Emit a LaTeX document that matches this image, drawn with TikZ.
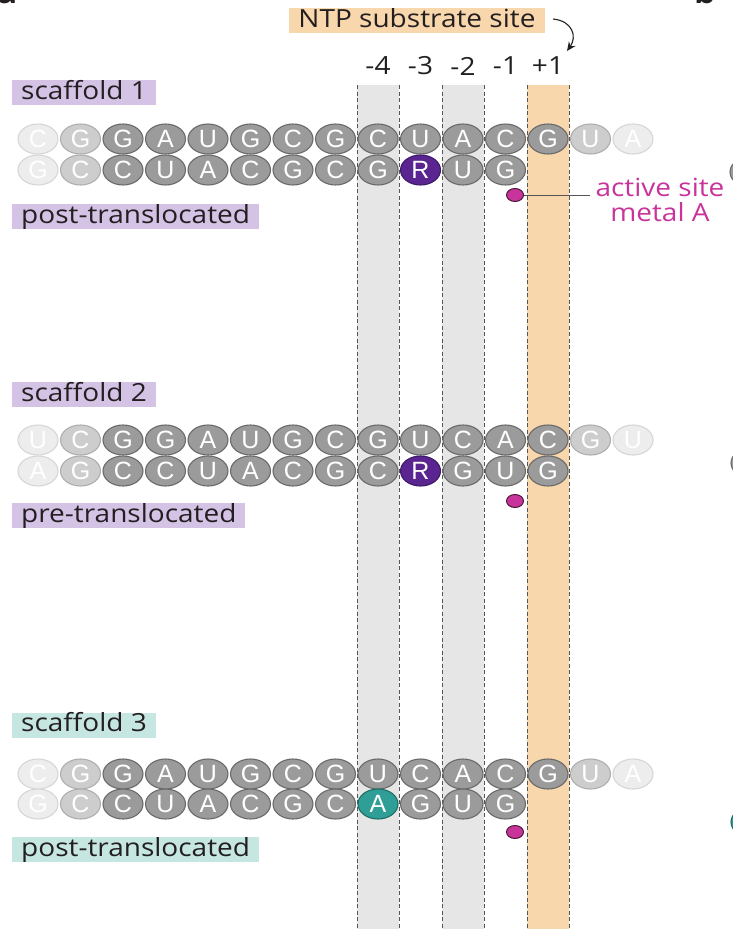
\documentclass[tikz,border=0pt]{standalone}
\usepackage{fontspec}
\setmainfont{Open Sans}[FakeStretch=1.12]
\newfontfamily\basefont{Liberation Sans}
\usetikzlibrary{arrows.meta,shapes.geometric}

\definecolor{bandgrey}{HTML}{E6E6E6}
\definecolor{ntporange}{HTML}{F9D7AC}
\definecolor{colline}{HTML}{555555}
\definecolor{ntfill}{HTML}{9B9B9B}
\definecolor{ntdraw}{HTML}{6A6A6A}
\definecolor{ltfill}{HTML}{CDCDCD}
\definecolor{ltdraw}{HTML}{AEAEAE}
\definecolor{plfill}{HTML}{EDEDED}
\definecolor{pldraw}{HTML}{D6D6D6}
\definecolor{rfill}{HTML}{5A2590}
\definecolor{rdraw}{HTML}{3E1968}
\definecolor{afill}{HTML}{2E9E96}
\definecolor{adraw}{HTML}{1E6E68}
\definecolor{metal}{HTML}{C8349A}
\definecolor{metaldraw}{HTML}{4A1A3A}
\definecolor{lavender}{HTML}{D5C3E6}
\definecolor{mint}{HTML}{C6E6E2}
\definecolor{txt}{HTML}{231F20}

\tikzset{
  base/.style={ellipse, minimum width=40pt, minimum height=30pt, inner sep=0pt,
    line width=1.1pt, text=white, font=\basefont\fontsize{25}{25}\selectfont},
  nt/.style={base, fill=ntfill, draw=ntdraw},
  ntlight/.style={base, fill=ltfill, draw=ltdraw},
  ntpale/.style={base, fill=plfill, draw=pldraw},
  ntr/.style={base, fill=rfill, draw=rdraw},
  nta/.style={base, fill=afill, draw=adraw},
  colsep/.style={colline, line width=0.9pt, dash pattern=on 4pt off 2.5pt},
  tag/.style={anchor=west, inner xsep=9pt, inner ysep=0.5pt, minimum height=25pt,
    text height=18.5pt, text depth=5.5pt, text=txt, font=\fontsize{25}{25}\selectfont},
  tagpurple/.style={tag, fill=lavender},
  tagmint/.style={tag, fill=mint},
  collabel/.style={text=txt, font=\fontsize{25}{25}\selectfont, inner sep=0pt},
  metaldot/.style={ellipse, minimum width=17pt, minimum height=13pt, inner sep=0pt,
    fill=metal, draw=metaldraw, line width=1pt},
  leader/.style={colline, line width=1pt},
  metaltxt/.style={text=metal, align=center, inner sep=0pt,
    font=\fontsize{25}{25}\selectfont},
  curvearrow/.style={line width=1.1pt, txt, -{Stealth[length=9pt,width=8pt]}}
}

\begin{document}
\begin{tikzpicture}[x=1pt,y=-1pt]
\useasboundingbox (0,0) rectangle (733,929);

% panel letters of the neighbouring panels, cut by the page edge
\node[anchor=base west, inner sep=0pt, text=txt, font=\bfseries\fontsize{30}{30}\selectfont] (pa) at (-3,3) {a};
\node[anchor=base west, inner sep=0pt, text=txt, font=\bfseries\fontsize{30}{30}\selectfont] (pb) at (694,3) {b};

% register columns
\fill[bandgrey] (357,85) rectangle (399,929);
\fill[bandgrey] (442,85) rectangle (484,929);
\fill[ntporange] (527,85) rectangle (569,929);
\foreach \x in {357,399,442,484,527,569}
  \draw[colsep] (\x,85) -- (\x,929);

% column positions
\foreach \lab [count=\i from 0] in {-4,-3,-2,-1,+1}
  \node[collabel] (col\i) at ({378+42.5*\i},66) {\lab};

% NTP substrate site tag with its arrow
\node[tag, fill=ntporange, anchor=center] (ntp) at (417,20.5) {NTP substrate site};
\coordinate (arrs) at (553,19);
\coordinate (arre) at (567,51);
\draw[curvearrow] (arrs) .. controls (573,21) and (577,37) .. (arre);

% ---------------- scaffold 1 ----------------
\node[tagpurple] (s1name) at (12,92.5) {scaffold 1};
\foreach \s/\l [count=\k from 0] in {ntpale/C,ntlight/G,nt/G,nt/A,nt/U,nt/G,nt/C,nt/G,nt/C,nt/U,nt/A,nt/C,nt/G,ntlight/U,ntpale/A}
  \node[\s] (s1a\k) at ({38+42.5*\k},139) {\l};
\foreach \s/\l [count=\k from 0] in {ntpale/G,ntlight/C,nt/C,nt/U,nt/A,nt/C,nt/G,nt/C,nt/G,ntr/R,nt/U,nt/G}
  \node[\s] (s1b\k) at ({38+42.5*\k},170) {\l};
\node[metaldot] (m1) at (515,195) {};
\coordinate (m1end) at (590,195);
\draw[leader] (m1) -- (m1end);
\node[metaltxt] (m1txt) at (660,200) {active site\\metal A};
\node[tagpurple] (s1state) at (12,216.5) {post-translocated};

% ---------------- scaffold 2 ----------------
\node[tagpurple] (s2name) at (12,394.5) {scaffold 2};
\foreach \s/\l [count=\k from 0] in {ntpale/U,ntlight/C,nt/G,nt/G,nt/A,nt/U,nt/G,nt/C,nt/G,nt/U,nt/C,nt/A,nt/C,ntlight/G,ntpale/U}
  \node[\s] (s2a\k) at ({38+42.5*\k},440) {\l};
\foreach \s/\l [count=\k from 0] in {ntpale/A,ntlight/G,nt/C,nt/C,nt/U,nt/A,nt/C,nt/G,nt/C,ntr/R,nt/G,nt/U,nt/G}
  \node[\s] (s2b\k) at ({38+42.5*\k},471) {\l};
\node[metaldot] (m2) at (515,501) {};
\node[tagpurple] (s2state) at (12,515.5) {pre-translocated};

% ---------------- scaffold 3 ----------------
\node[tagmint] (s3name) at (12,725) {scaffold 3};
\foreach \s/\l [count=\k from 0] in {ntpale/C,ntlight/G,nt/G,nt/A,nt/U,nt/G,nt/C,nt/G,nt/U,nt/C,nt/A,nt/C,nt/G,ntlight/U,ntpale/A}
  \node[\s] (s3a\k) at ({38+42.5*\k},774) {\l};
\foreach \s/\l [count=\k from 0] in {ntpale/G,ntlight/C,nt/C,nt/U,nt/A,nt/C,nt/G,nt/C,nta/A,nt/G,nt/U,nt/G}
  \node[\s] (s3b\k) at ({38+42.5*\k},804) {\l};
\node[metaldot] (m3) at (515,832) {};
\node[tagmint] (s3state) at (12,849.5) {post-translocated};

% edges of the neighbouring panel's nucleotides
\node[nt] (e1) at (750,172) {};
\node[nt] (e2) at (751,463) {};
\node[nta] (e3) at (751,822) {};
\end{tikzpicture}
\end{document}
